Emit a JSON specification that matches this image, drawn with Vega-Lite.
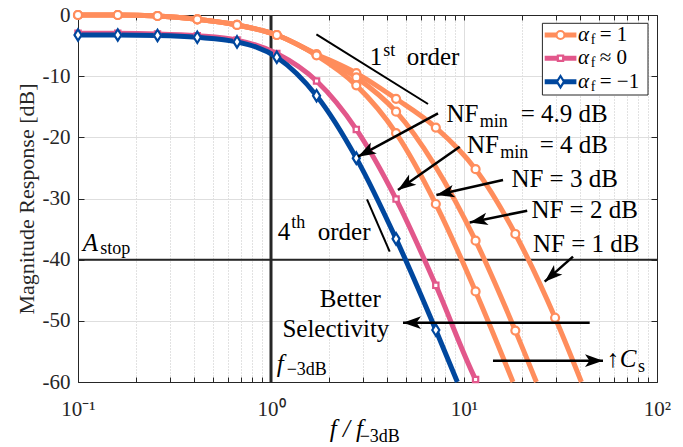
{
  "$schema": "https://vega.github.io/schema/vega-lite/v6.json",
  "width": 579,
  "height": 367,
  "autosize": {"type": "none"},
  "padding": {"left": 78, "top": 15, "right": 26, "bottom": 65},
  "background": "white",
  "config": {
    "view": {"stroke": null},
    "font": "'Liberation Serif', 'Times New Roman', serif",
    "axis": {"domainColor": "#262626", "tickColor": "#262626", "labelColor": "#262626", "titleColor": "#262626", "labelFont": "'Liberation Serif', 'Times New Roman', serif", "titleFont": "'Liberation Serif', 'Times New Roman', serif", "domainWidth": 1, "tickWidth": 1}
  },
  "datasets": {
    "curves": [
      {"series": "αf = 1", "NF": 1, "kind": "sample", "f": 0.1, "dB": 0},
      {"series": "αf = 1", "NF": 1, "kind": "sample", "f": 0.1607, "dB": 0},
      {"series": "αf = 1", "NF": 1, "kind": "sample", "f": 0.2582, "dB": -0.16},
      {"series": "αf = 1", "NF": 1, "kind": "sample", "f": 0.415, "dB": -0.7},
      {"series": "αf = 1", "NF": 1, "kind": "sample", "f": 0.6668, "dB": -1.63},
      {"series": "αf = 1", "NF": 1, "kind": "sample", "f": 1.0715, "dB": -3.27},
      {"series": "αf = 1", "NF": 1, "kind": "sample", "f": 1.7219, "dB": -6.4},
      {"series": "αf = 1", "NF": 1, "kind": "sample", "f": 2.7669, "dB": -9.5},
      {"series": "αf = 1", "NF": 1, "kind": "sample", "f": 4.4463, "dB": -13.7},
      {"series": "αf = 1", "NF": 1, "kind": "sample", "f": 7.145, "dB": -18.4},
      {"series": "αf = 1", "NF": 1, "kind": "sample", "f": 11.482, "dB": -25.2},
      {"series": "αf = 1", "NF": 1, "kind": "sample", "f": 18.45, "dB": -35.8},
      {"series": "αf = 1", "NF": 1, "kind": "sample", "f": 29.648, "dB": -49.5},
      {"series": "αf = 1", "NF": 1, "kind": "edge", "f": 40.58, "dB": -60},

      {"series": "αf = 1", "NF": 2, "kind": "sample", "f": 0.1, "dB": 0},
      {"series": "αf = 1", "NF": 2, "kind": "sample", "f": 0.1607, "dB": 0},
      {"series": "αf = 1", "NF": 2, "kind": "sample", "f": 0.2582, "dB": -0.16},
      {"series": "αf = 1", "NF": 2, "kind": "sample", "f": 0.415, "dB": -0.7},
      {"series": "αf = 1", "NF": 2, "kind": "sample", "f": 0.6668, "dB": -1.63},
      {"series": "αf = 1", "NF": 2, "kind": "sample", "f": 1.0715, "dB": -3.27},
      {"series": "αf = 1", "NF": 2, "kind": "sample", "f": 1.7219, "dB": -6.5},
      {"series": "αf = 1", "NF": 2, "kind": "sample", "f": 2.7669, "dB": -10.2},
      {"series": "αf = 1", "NF": 2, "kind": "sample", "f": 4.4463, "dB": -15.8},
      {"series": "αf = 1", "NF": 2, "kind": "sample", "f": 11.482, "dB": -36.9},
      {"series": "αf = 1", "NF": 2, "kind": "sample", "f": 18.45, "dB": -51.6},
      {"series": "αf = 1", "NF": 2, "kind": "edge", "f": 23.72, "dB": -60},

      {"series": "αf = 1", "NF": 3, "kind": "sample", "f": 0.1, "dB": 0},
      {"series": "αf = 1", "NF": 3, "kind": "sample", "f": 0.1607, "dB": 0},
      {"series": "αf = 1", "NF": 3, "kind": "sample", "f": 0.2582, "dB": -0.16},
      {"series": "αf = 1", "NF": 3, "kind": "sample", "f": 0.415, "dB": -0.7},
      {"series": "αf = 1", "NF": 3, "kind": "sample", "f": 0.6668, "dB": -1.63},
      {"series": "αf = 1", "NF": 3, "kind": "sample", "f": 1.0715, "dB": -3.27},
      {"series": "αf = 1", "NF": 3, "kind": "sample", "f": 1.7219, "dB": -6.6},
      {"series": "αf = 1", "NF": 3, "kind": "sample", "f": 2.7669, "dB": -11.5},
      {"series": "αf = 1", "NF": 3, "kind": "sample", "f": 4.4463, "dB": -19.3},
      {"series": "αf = 1", "NF": 3, "kind": "sample", "f": 7.145, "dB": -30.9},
      {"series": "αf = 1", "NF": 3, "kind": "sample", "f": 11.482, "dB": -45.2},
      {"series": "αf = 1", "NF": 3, "kind": "edge", "f": 17.94, "dB": -60},

      {"series": "αf ≈ 0", "NF": 4, "kind": "sample", "f": 0.1, "dB": -3.0},
      {"series": "αf ≈ 0", "NF": 4, "kind": "sample", "f": 0.1607, "dB": -3.0},
      {"series": "αf ≈ 0", "NF": 4, "kind": "sample", "f": 0.2582, "dB": -3.1},
      {"series": "αf ≈ 0", "NF": 4, "kind": "sample", "f": 0.415, "dB": -3.4},
      {"series": "αf ≈ 0", "NF": 4, "kind": "sample", "f": 0.6668, "dB": -4.1},
      {"series": "αf ≈ 0", "NF": 4, "kind": "sample", "f": 1.0715, "dB": -6.3},
      {"series": "αf ≈ 0", "NF": 4, "kind": "sample", "f": 1.7219, "dB": -10.8},
      {"series": "αf ≈ 0", "NF": 4, "kind": "sample", "f": 2.7669, "dB": -18.7},
      {"series": "αf ≈ 0", "NF": 4, "kind": "sample", "f": 4.4463, "dB": -30.1},
      {"series": "αf ≈ 0", "NF": 4, "kind": "sample", "f": 7.145, "dB": -44.2},
      {"series": "αf ≈ 0", "NF": 4, "kind": "sample", "f": 11.482, "dB": -59.6},
      {"series": "αf ≈ 0", "NF": 4, "kind": "edge", "f": 11.65, "dB": -60},

      {"series": "αf = −1", "NF": 4.9, "kind": "sample", "f": 0.1, "dB": -3.27},
      {"series": "αf = −1", "NF": 4.9, "kind": "sample", "f": 0.1607, "dB": -3.27},
      {"series": "αf = −1", "NF": 4.9, "kind": "sample", "f": 0.2582, "dB": -3.35},
      {"series": "αf = −1", "NF": 4.9, "kind": "sample", "f": 0.415, "dB": -3.65},
      {"series": "αf = −1", "NF": 4.9, "kind": "sample", "f": 0.6668, "dB": -4.4},
      {"series": "αf = −1", "NF": 4.9, "kind": "sample", "f": 1.0715, "dB": -6.9},
      {"series": "αf = −1", "NF": 4.9, "kind": "sample", "f": 1.7219, "dB": -13.2},
      {"series": "αf = −1", "NF": 4.9, "kind": "sample", "f": 2.7669, "dB": -23.4},
      {"series": "αf = −1", "NF": 4.9, "kind": "sample", "f": 4.4463, "dB": -36.6},
      {"series": "αf = −1", "NF": 4.9, "kind": "sample", "f": 7.145, "dB": -51.5},
      {"series": "αf = −1", "NF": 4.9, "kind": "edge", "f": 9.24, "dB": -60}
    ],
    "slopes": [
      {"order": 1, "f": 1.719, "dB": -3.16, "f2": 6.51, "dB2": -14.55},
      {"order": 4, "f": 3.144, "dB": -30.13, "f2": 4.121, "dB2": -38.7}
    ],
    "arrows": [
      {"note": "NFmin 4.9 dB", "f": 7.334, "dB": -16.07, "f2": 2.824, "dB2": -23.16},
      {"note": "NFmin 4 dB", "f": 9.5, "dB": -21.53, "f2": 4.55, "dB2": -28.61},
      {"note": "NF 3 dB", "f": 15.93, "dB": -26.97, "f2": 7.194, "dB2": -29.43},
      {"note": "NF 2 dB", "f": 21.26, "dB": -31.99, "f2": 10.7, "dB2": -33.92},
      {"note": "NF 1 dB", "f": 36.71, "dB": -39.51, "f2": 26.19, "dB2": -43.6},
      {"note": "Better Selectivity", "f": 44.8, "dB": -50.3, "f2": 4.83, "dB2": -50.3},
      {"note": "Cs up", "f": 14.13, "dB": -56.51, "f2": 52.5, "dB2": -56.51}
    ],
    "notes": [
      {"text": "1", "f": 3.247, "dB": -8.17},
      {"text": "order", "f": 5.048, "dB": -8.17},
      {"text": "NF", "f": 8.106, "dB": -17.44},
      {"text": "= 4.9 dB", "f": 19.67, "dB": -17.44},
      {"text": "NF", "f": 10.36, "dB": -22.61},
      {"text": "= 4 dB", "f": 24.68, "dB": -22.61},
      {"text": "NF = 3 dB", "f": 17.6, "dB": -28.07},
      {"text": "NF = 2 dB", "f": 22.35, "dB": -33.24},
      {"text": "NF = 1 dB", "f": 22.78, "dB": -38.7},
      {"text": "4", "f": 1.083, "dB": -36.78},
      {"text": "order", "f": 1.746, "dB": -36.78},
      {"text": "Better", "f": 1.788, "dB": -47.78},
      {"text": "Selectivity", "f": 1.146, "dB": -52.59},
      {"text": "↑", "f": 54.67, "dB": -57.5}
    ],
    "italics": [
      {"text": "A", "f": 0.1058, "dB": -38.58},
      {"text": "C", "f": 64.07, "dB": -57.5},
      {"text": "f", "f": 1.07, "dB": -58.36},
      {"text": "f / f", "f": 2.014, "dB": -68.99}
    ],
    "subs": [
      {"text": "min", "f": 12.06, "dB": -18.23},
      {"text": "min", "f": 15.4, "dB": -23.38},
      {"text": "stop", "f": 0.1303, "dB": -39.15},
      {"text": "s", "f": 79.7, "dB": -58.31},
      {"text": "−3dB", "f": 1.206, "dB": -58.85},
      {"text": "−3dB", "f": 2.882, "dB": -69.8}
    ],
    "sups": [
      {"text": "st", "f": 3.814, "dB": -6.7},
      {"text": "th", "f": 1.273, "dB": -34.82}
    ],
    "key": [
      {"series": "αf = 1", "rel": "= 1", "dB": -3.27},
      {"series": "αf ≈ 0", "rel": "≈ 0", "dB": -7.08},
      {"series": "αf = −1", "rel": "= −1", "dB": -10.9}
    ]
  },
  "layer": [
    {
      "data": {"values": [{"f": 1}]},
      "mark": {"type": "rule", "color": "#262626", "strokeWidth": 3},
      "encoding": {
        "x": {"field": "f", "type": "quantitative", "scale": {"type": "log", "domain": [0.1, 100]},
          "axis": {"orient": "top", "values": [0.1,0.2,0.3,0.4,0.5,0.6,0.7,0.8,0.9,1,2,3,4,5,6,7,8,9,10,20,30,40,50,60,70,80,90,100], "labels": false, "grid": false, "title": null, "tickSize": -5}}
      }
    },
    {
      "data": {"values": [{"dB": -40}]},
      "mark": {"type": "rule", "color": "#262626", "strokeWidth": 2},
      "encoding": {
        "y": {"field": "dB", "type": "quantitative", "scale": {"domain": [-60, 0], "nice": false},
          "axis": {"orient": "right", "values": [-60,-50,-40,-30,-20,-10,0], "labels": false, "grid": false, "title": null, "tickSize": -6}}
      }
    },
    {
      "data": {"name": "curves"},
      "mark": {"type": "line", "interpolate": "monotone", "strokeWidth": 5},
      "encoding": {
        "x": {"field": "f", "type": "quantitative", "scale": {"type": "log", "domain": [0.1, 100]},
          "axis": {"orient": "bottom", "values": [0.1,0.2,0.3,0.4,0.5,0.6,0.7,0.8,0.9,1,2,3,4,5,6,7,8,9,10,20,30,40,50,60,70,80,90,100],
            "title": null, "grid": true,
            "gridColor": {"condition": {"test": "indexof([0.1,1,10,100], datum.value) >= 0", "value": "#dedede"}, "value": "#c4c4c4"},
            "gridDash": {"condition": {"test": "indexof([0.1,1,10,100], datum.value) >= 0", "value": []}, "value": [1, 2]},
            "tickSize": -5, "labelFontSize": 21, "labelBaseline": "alphabetic", "labelPadding": 38, "labelFlush": false, "labelOverlap": false,
            "labelExpr": "datum.value == 0.1 ? '10⁻¹' : datum.value == 1 ? '10⁰' : datum.value == 10 ? '10¹' : datum.value == 100 ? '10²' : ''"}},
        "y": {"field": "dB", "type": "quantitative", "scale": {"domain": [-60, 0], "nice": false},
          "axis": {"orient": "left", "values": [-60,-50,-40,-30,-20,-10,0], "title": "Magnitude Response [dB]",
            "titleFontSize": 22, "titleFontWeight": "normal", "titleAngle": -90, "titleX": -45, "titleY": 183.5, "titleBaseline": "alphabetic", "titleAlign": "center",
            "grid": true, "gridColor": "#dedede", "tickSize": -6, "labelPadding": 14, "labelFontSize": 21,
            "labelExpr": "datum.value == 0 ? '0' : '-' + abs(datum.value)"}},
        "color": {"field": "series", "type": "nominal", "scale": {"domain": ["αf = 1", "αf ≈ 0", "αf = −1"], "range": ["#FF8D5C", "#E2578B", "#00479E"]}, "legend": null},
        "detail": {"field": "NF", "type": "nominal"}
      }
    },
    {
      "data": {"name": "curves"},
      "transform": [{"filter": "datum.kind == 'sample' && datum.series == 'αf = 1'"}],
      "mark": {"type": "point", "shape": "circle", "size": 64, "filled": false, "fill": "white", "stroke": "#FF8D5C", "strokeWidth": 2.2, "opacity": 1},
      "encoding": {
        "x": {"field": "f", "type": "quantitative", "axis": null},
        "y": {"field": "dB", "type": "quantitative", "axis": null}
      }
    },
    {
      "data": {"name": "curves"},
      "transform": [{"filter": "datum.kind == 'sample' && datum.series == 'αf ≈ 0'"}],
      "mark": {"type": "point", "shape": "square", "size": 28, "filled": false, "fill": "white", "stroke": "#E2578B", "strokeWidth": 2.2, "opacity": 1},
      "encoding": {
        "x": {"field": "f", "type": "quantitative", "axis": null},
        "y": {"field": "dB", "type": "quantitative", "axis": null}
      }
    },
    {
      "data": {"name": "curves"},
      "transform": [{"filter": "datum.kind == 'sample' && datum.series == 'αf = −1'"}],
      "mark": {"type": "point", "shape": "M0,-1L0.62,0L0,1L-0.62,0Z", "size": 130, "filled": false, "fill": "white", "stroke": "#00479E", "strokeWidth": 2.2, "opacity": 1},
      "encoding": {
        "x": {"field": "f", "type": "quantitative", "axis": null},
        "y": {"field": "dB", "type": "quantitative", "axis": null}
      }
    },
    {
      "data": {"name": "slopes"},
      "mark": {"type": "rule", "color": "black", "strokeWidth": 2},
      "encoding": {
        "x": {"field": "f", "type": "quantitative", "axis": null},
        "y": {"field": "dB", "type": "quantitative", "axis": null},
        "x2": {"field": "f2"},
        "y2": {"field": "dB2"}
      }
    },
    {
      "data": {"name": "arrows"},
      "mark": {"type": "rule", "color": "black", "strokeWidth": 2.5},
      "encoding": {
        "x": {"field": "f", "type": "quantitative", "axis": null},
        "y": {"field": "dB", "type": "quantitative", "axis": null},
        "x2": {"field": "f2"},
        "y2": {"field": "dB2"}
      }
    },
    {
      "data": {"name": "arrows"},
      "transform": [{"calculate": "atan2((datum.dB - datum.dB2) * 367 / 60, (log(datum.f2) - log(datum.f)) / LN10 * 579 / 3) * 180 / PI", "as": "heading"}],
      "mark": {"type": "point", "shape": "M0,0L-2,-0.7L-1.5,0L-2,0.7Z", "size": 324, "filled": true, "color": "black", "opacity": 1, "strokeWidth": 0},
      "encoding": {
        "x": {"field": "f2", "type": "quantitative", "axis": null},
        "y": {"field": "dB2", "type": "quantitative", "axis": null},
        "angle": {"field": "heading", "type": "quantitative", "scale": null}
      }
    },
    {
      "data": {"name": "notes"},
      "mark": {"type": "text", "font": "'Liberation Serif', 'Times New Roman', serif", "fontSize": 25, "align": "left", "baseline": "alphabetic", "color": "black"},
      "encoding": {
        "x": {"field": "f", "type": "quantitative", "axis": null},
        "y": {"field": "dB", "type": "quantitative", "axis": null},
        "text": {"field": "text"}
      }
    },
    {
      "data": {"name": "italics"},
      "mark": {"type": "text", "font": "'Liberation Serif', 'Times New Roman', serif", "fontSize": 25, "fontStyle": "italic", "align": "left", "baseline": "alphabetic", "color": "black"},
      "encoding": {
        "x": {"field": "f", "type": "quantitative", "axis": null},
        "y": {"field": "dB", "type": "quantitative", "axis": null},
        "text": {"field": "text"}
      }
    },
    {
      "data": {"name": "subs"},
      "mark": {"type": "text", "font": "'Liberation Serif', 'Times New Roman', serif", "fontSize": 18, "align": "left", "baseline": "alphabetic", "color": "black"},
      "encoding": {
        "x": {"field": "f", "type": "quantitative", "axis": null},
        "y": {"field": "dB", "type": "quantitative", "axis": null},
        "text": {"field": "text"}
      }
    },
    {
      "data": {"name": "sups"},
      "mark": {"type": "text", "font": "'Liberation Serif', 'Times New Roman', serif", "fontSize": 18, "align": "left", "baseline": "alphabetic", "color": "black"},
      "encoding": {
        "x": {"field": "f", "type": "quantitative", "axis": null},
        "y": {"field": "dB", "type": "quantitative", "axis": null},
        "text": {"field": "text"}
      }
    },
    {
      "data": {"values": [{}]},
      "mark": {"type": "rect", "fill": "white", "stroke": "#262626", "strokeWidth": 1},
      "encoding": {
        "x": {"datum": 25.48, "type": "quantitative", "axis": null},
        "x2": {"datum": 89.82},
        "y": {"datum": -1.357, "type": "quantitative", "axis": null},
        "y2": {"datum": -13.08}
      }
    },
    {
      "data": {"name": "key"},
      "mark": {"type": "rule", "strokeWidth": 5},
      "encoding": {
        "x": {"datum": 26.19, "type": "quantitative", "axis": null},
        "x2": {"datum": 38.23},
        "y": {"field": "dB", "type": "quantitative", "axis": null},
        "color": {"field": "series", "type": "nominal", "legend": null}
      }
    },
    {
      "data": {"name": "key"},
      "transform": [{"filter": "datum.series == 'αf = 1'"}],
      "mark": {"type": "point", "shape": "circle", "size": 64, "filled": false, "fill": "white", "stroke": "#FF8D5C", "strokeWidth": 2.2, "opacity": 1},
      "encoding": {
        "x": {"datum": 31.62, "type": "quantitative", "axis": null},
        "y": {"field": "dB", "type": "quantitative", "axis": null}
      }
    },
    {
      "data": {"name": "key"},
      "transform": [{"filter": "datum.series == 'αf ≈ 0'"}],
      "mark": {"type": "point", "shape": "square", "size": 28, "filled": false, "fill": "white", "stroke": "#E2578B", "strokeWidth": 2.2, "opacity": 1},
      "encoding": {
        "x": {"datum": 31.62, "type": "quantitative", "axis": null},
        "y": {"field": "dB", "type": "quantitative", "axis": null}
      }
    },
    {
      "data": {"name": "key"},
      "transform": [{"filter": "datum.series == 'αf = −1'"}],
      "mark": {"type": "point", "shape": "M0,-1L0.62,0L0,1L-0.62,0Z", "size": 130, "filled": false, "fill": "white", "stroke": "#00479E", "strokeWidth": 2.2, "opacity": 1},
      "encoding": {
        "x": {"datum": 31.62, "type": "quantitative", "axis": null},
        "y": {"field": "dB", "type": "quantitative", "axis": null}
      }
    },
    {
      "data": {"name": "key"},
      "mark": {"type": "text", "text": "α", "font": "'Liberation Serif', 'Times New Roman', serif", "fontSize": 21, "fontStyle": "italic", "align": "left", "baseline": "alphabetic", "dy": 6, "color": "black"},
      "encoding": {
        "x": {"datum": 38.96, "type": "quantitative", "axis": null},
        "y": {"field": "dB", "type": "quantitative", "axis": null}
      }
    },
    {
      "data": {"name": "key"},
      "mark": {"type": "text", "text": "f", "font": "'Liberation Serif', 'Times New Roman', serif", "fontSize": 14, "align": "left", "baseline": "alphabetic", "dy": 9, "color": "black"},
      "encoding": {
        "x": {"datum": 45.3, "type": "quantitative", "axis": null},
        "y": {"field": "dB", "type": "quantitative", "axis": null}
      }
    },
    {
      "data": {"name": "key"},
      "mark": {"type": "text", "font": "'Liberation Serif', 'Times New Roman', serif", "fontSize": 21, "align": "left", "baseline": "alphabetic", "dy": 6, "color": "black"},
      "encoding": {
        "x": {"datum": 50.48, "type": "quantitative", "axis": null},
        "y": {"field": "dB", "type": "quantitative", "axis": null},
        "text": {"field": "rel"}
      }
    }
  ],
  "resolve": {"axis": {"x": "independent", "y": "independent"}}
}
